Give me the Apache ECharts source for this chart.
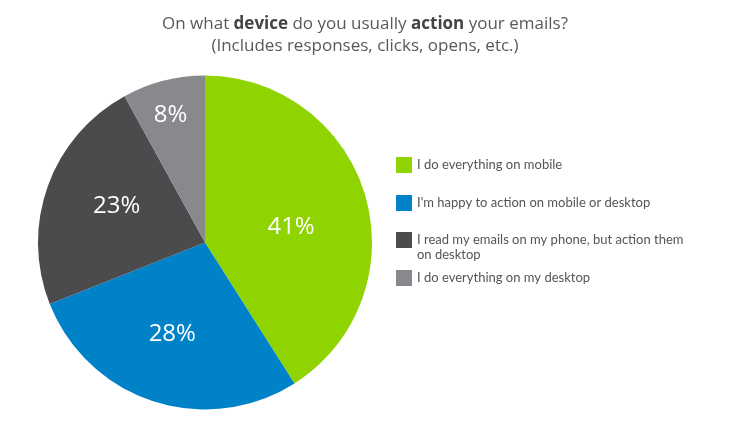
<!DOCTYPE html>
<html>
<head>
<meta charset="utf-8">
<script src="https://cdn.jsdelivr.net/npm/echarts@6/dist/echarts.min.js"></script>
<style>
html, body { margin: 0; padding: 0; background: #fff; }
#chart { width: 730px; height: 444px; }
</style>
</head>
<body>
<div id="chart"></div>
<script>
// 数据
var categories = [
	'I do everything on mobile',
	"I'm happy to action on mobile or desktop",
	'I read my emails on my phone, but action them on desktop',
	'I do everything on my desktop'
];
var shares = [41, 28, 23, 8];
var colors = ['#8fd400', '#0082c8', '#4b4b4e', '#88898c'];
var legendTops = [157, 195, 217.5, 270];

var myChart = echarts.init(document.getElementById('chart'));

// 标签微调（参考图里的标签不是严格放在半径中点）
var labelOffsets = [[3, 9], [-6, 9], [-7, -7], [-13, -44]];

var pieData = categories.map(function(name, i) {
	return {
		name: name,
		value: shares[i],
		itemStyle: { color: colors[i] },
		label: { offset: labelOffsets[i] }
	};
});

// 每个图例项单独放，方便对齐
// 换行的那一项前面加一个空行，让第一行和色块对齐
var legends = categories.map(function(name, i) {
	var wrap = name.length > 45;
	return {
		data: [name],
		left: 396,
		top: legendTops[i],
		padding: 0,
		orient: 'vertical',
		icon: 'rect',
		itemWidth: 16,
		itemHeight: 16,
		itemGap: 0,
		selectedMode: false,
		formatter: function(n) {
			return wrap ? '\n' + n.replace(' on desktop', '\non desktop') : n;
		},
		textStyle: {
			fontFamily: 'Lato',
			fontSize: 13,
			color: '#555',
			lineHeight: 15
		}
	};
});

var option = {
	animation: false,
	title: {
		text: '{n|On what }{b|device}{n| do you usually }{b|action}{n| your emails?}\n{n|(Includes responses, clicks, opens, etc.)}',
		left: 'center',
		top: 8,
		textStyle: {
			rich: {
				n: { fontFamily: 'Open Sans', fontSize: 17, fontWeight: 'normal', color: '#595959', lineHeight: 22 },
				b: { fontFamily: 'Open Sans', fontSize: 17, fontWeight: 'bold', color: '#444', lineHeight: 22 }
			}
		}
	},
	legend: legends,
	series: [
		{
			type: 'pie',
			center: [205, 242.5],
			radius: [0, 167],
			startAngle: 90,
			clockwise: true,
			label: {
				show: true,
				position: 'inside',
				formatter: '{c}%',
				color: '#fff',
				fontFamily: 'Open Sans',
				fontSize: 24
			},
			labelLine: { show: false },
			emphasis: { disabled: true },
			data: pieData
		}
	]
};
myChart.setOption(option);
</script>
</body>
</html>
